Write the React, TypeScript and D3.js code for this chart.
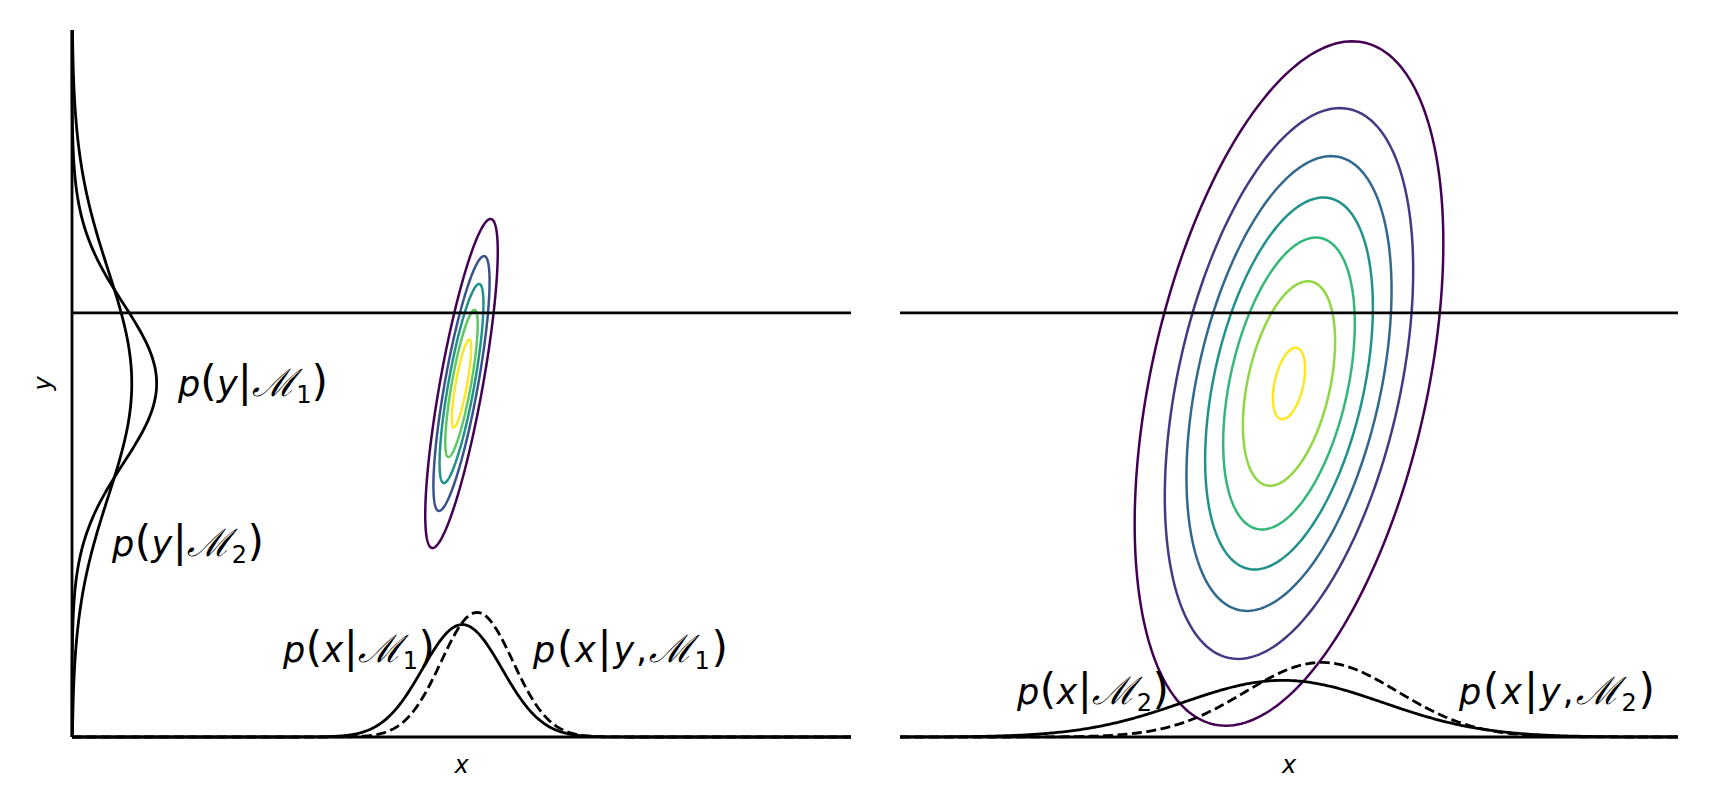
import React from "react";
import * as d3 from "d3";

// shared data domains of both panels
const xDomain = [-5, 5];
const yDomain = [-5, 5];
const yObserved = 1.0; // the horizontal line

// joint Gaussian p(x, y | M_k), drawn as contours (index 0 = M1, 1 = M2)
const jointMeanX = [0, 0];
const jointMeanY = [0, 0];
const jointSdX = [0.25, 1.0];
const jointSdY = [1.25, 2.44];
const jointRho = [0.8, 0.41];
const contourLevelsM1 = [0.15, 0.3, 0.45, 0.6, 0.75];
const contourLevelsM2 = [0.01, 0.02, 0.03, 0.04, 0.05, 0.06, 0.07];

// p(y|M1), p(y|M2) along the left spine of the first panel
const marginalYMean = [0, 0];
const marginalYSd = [1.13, 1.6];
const marginalYDensityMax = 3.25;

// curves on the x-axis: p(x|M) solid and p(x|y,M) dashed, per panel
const priorXMean = [0.01, -0.08];
const priorXSd = [0.51, 1.29];
const postXMean = [0.2, 0.42];
const postXSd = [0.46, 0.98];
const xDensityMax = [4.92, 3.86];

const marginLabels = ["p(y|ℳ1)", "p(y|ℳ2)"];
const bottomLabels = [
  ["p(x|ℳ1)", "p(x|y,ℳ1)"],
  ["p(x|ℳ2)", "p(x|y,ℳ2)"],
];

const W = 1710;
const H = 809;
const TOP = 30;
const BOTTOM = 737;
const panelBox = [
  { left: 72, right: 851 },
  { left: 900, right: 1678 },
];

const FONT = "DejaVu Sans";
const SAMPLES = 400;
const LW = 2.8;

const gauss = (v: number, m: number, s: number) =>
  Math.exp(-0.5 * ((v - m) / s) ** 2) / (s * Math.sqrt(2 * Math.PI));

// math-ish label: italic letters, tall brackets, script M, digit as subscript
const MathLabel = ({ text, x, y, width }: { text: string; x: number; y: number; width: number }) => {
  const parts: JSX.Element[] = [];
  let shifted = false;
  Array.from(text).forEach((ch, i) => {
    let props: any = {};
    if (/[a-z]/.test(ch)) props = { fontStyle: "italic" };
    else if ("()|".includes(ch)) props = { fontSize: 42 };
    else if (ch === "ℳ") props = { fontSize: 38, fontFamily: "DejaVu Serif", fontStyle: "italic" };
    else if (/[0-9]/.test(ch)) props = { fontSize: 24, dy: 7 };
    if (shifted && !/[0-9]/.test(ch)) {
      props.dy = -7;
      shifted = false;
    }
    if (/[0-9]/.test(ch)) shifted = true;
    parts.push(
      <tspan key={i} {...props}>
        {ch}
      </tspan>
    );
  });
  return (
    <text x={x} y={y} fontFamily={FONT} fontSize={35} textLength={width} lengthAdjust="spacing" fill="#000">
      {parts}
    </text>
  );
};

const Panel = ({ index }: { index: number }) => {
  const { left, right } = panelBox[index];
  const x = d3.scaleLinear().domain(xDomain).range([left, right]);
  const y = d3.scaleLinear().domain(yDomain).range([BOTTOM, TOP]);
  const dens = d3.scaleLinear().domain([0, xDensityMax[index]]).range([BOTTOM, TOP]);

  const xs = d3.range(SAMPLES + 1).map((i) => xDomain[0] + ((xDomain[1] - xDomain[0]) * i) / SAMPLES);
  const ys = d3.range(SAMPLES + 1).map((i) => yDomain[0] + ((yDomain[1] - yDomain[0]) * i) / SAMPLES);

  // contour ellipses of the joint density
  const sx = jointSdX[index];
  const sy = jointSdY[index];
  const rho = jointRho[index];
  const peak = 1 / (2 * Math.PI * sx * sy * Math.sqrt(1 - rho * rho));
  const levels = index === 0 ? contourLevelsM1 : contourLevelsM2;
  const color = (k: number) => d3.interpolateViridis(k / (levels.length - 1));
  const angles = d3.range(240).map((i) => (2 * Math.PI * i) / 240);
  const ellipse = d3.line<number>().curve(d3.curveLinearClosed);
  const ellipsePath = (lvl: number) => {
    const r = Math.sqrt(2 * Math.log(peak / lvl));
    return ellipse
      .x((t) => x(jointMeanX[index] + r * sx * Math.cos(t)))
      .y((t) => y(jointMeanY[index] + r * sy * (rho * Math.cos(t) + Math.sqrt(1 - rho * rho) * Math.sin(t))))(angles);
  };

  const bottomCurve = (m: number, s: number) =>
    d3
      .line<number>()
      .x((v) => x(v))
      .y((v) => dens(gauss(v, m, s)))(xs);

  const yDens = d3.scaleLinear().domain([0, marginalYDensityMax]).range([left, right]);
  const sideCurve = (m: number, s: number) =>
    d3
      .line<number>()
      .x((v) => yDens(gauss(v, m, s)))
      .y((v) => y(v))(ys);

  const labelPos =
    index === 0
      ? [
          { x: 283, y: 662, w: 152 },
          { x: 533, y: 662, w: 195 },
        ]
      : [
          { x: 1017, y: 704, w: 152 },
          { x: 1459, y: 704, w: 196 },
        ];
  const midX = (left + right) / 2;

  return (
    <g>
      {levels.map((lvl, k) => (
        <path key={k} d={ellipsePath(lvl) || ""} fill="none" stroke={color(k)} strokeWidth={2.5} />
      ))}
      <line x1={left} x2={right} y1={y(yObserved)} y2={y(yObserved)} stroke="#000" strokeWidth={LW} />
      <line x1={left} x2={right} y1={BOTTOM} y2={BOTTOM} stroke="#000" strokeWidth={LW} />
      {index === 0 && <line x1={left} x2={left} y1={TOP} y2={BOTTOM} stroke="#000" strokeWidth={LW} />}
      {index === 0 &&
        marginalYMean.map((m, k) => (
          <path key={k} d={sideCurve(m, marginalYSd[k]) || ""} fill="none" stroke="#000" strokeWidth={LW} />
        ))}
      <path d={bottomCurve(priorXMean[index], priorXSd[index]) || ""} fill="none" stroke="#000" strokeWidth={LW} />
      <path
        d={bottomCurve(postXMean[index], postXSd[index]) || ""}
        fill="none"
        stroke="#000"
        strokeWidth={LW}
        strokeDasharray="10,4.5"
      />
      {bottomLabels[index].map((t, k) => (
        <MathLabel key={k} text={t} x={labelPos[k].x} y={labelPos[k].y} width={labelPos[k].w} />
      ))}
      <text x={midX} y={773} textAnchor="middle" fontFamily={FONT} fontStyle="italic" fontSize={24}>
        x
      </text>
      {index === 0 && (
        <>
          <text
            transform={`translate(51,${(TOP + BOTTOM) / 2}) rotate(-90)`}
            textAnchor="middle"
            fontFamily={FONT}
            fontStyle="italic"
            fontSize={24}
          >
            y
          </text>
          <MathLabel text={marginLabels[0]} x={178} y={396} width={150} />
          <MathLabel text={marginLabels[1]} x={112} y={556} width={152} />
        </>
      )}
    </g>
  );
};

export default function App() {
  return (
    <div style={{ position: "absolute", left: 0, top: 0 }}>
      <svg width={W} height={H} style={{ display: "block", background: "#fff" }}>
        <Panel index={0} />
        <Panel index={1} />
      </svg>
    </div>
  );
}
